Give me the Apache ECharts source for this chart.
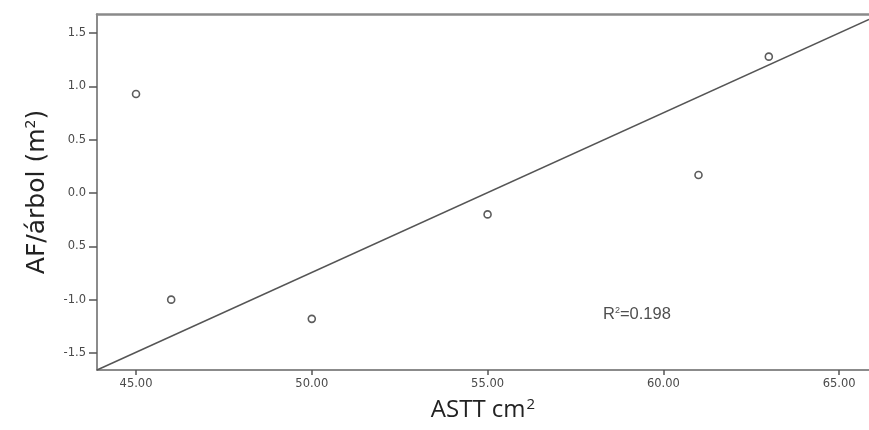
<!DOCTYPE html>
<html>
<head>
<meta charset="utf-8">
<script src="https://cdn.jsdelivr.net/npm/echarts@6/dist/echarts.min.js"></script>
<style>
html,body{margin:0;padding:0;background:#fff;}
#c{width:869px;height:430px;}
</style>
</head>
<body>
<div id="c"></div>
<script>
// Data
const pointX = [45.0, 46.0, 50.0, 55.0, 61.0, 63.0];
const pointY = [0.93, -1.0, -1.18, -0.2, 0.17, 1.28];
const lineX = [43.89, 65.85];
const lineY = [-1.66, 1.63];
const xTicks = [45, 50, 55, 60, 65];
const xTickLabels = ["45.00", "50.00", "55.00", "60.00", "65.00"];
const yTicks = [-1.5, -1.0, -0.5, 0.0, 0.5, 1.0, 1.5];
const yTickLabels = ["-1.5", "-1.0", "0.5", "0.0", "0.5", "1.0", "1.5"];
const r2Pos = [59.25, -1.14];
const r2Value = "0.198";

const chart = echarts.init(document.getElementById('c'), null, {renderer: 'canvas'});
const tickFont = {fontFamily: 'DejaVu Sans', fontSize: 11.5, color: '#4a4a4a'};

chart.setOption({
  animation: false,
  backgroundColor: '#fff',
  grid: {left: 97, right: 0, top: 14, bottom: 60},
  xAxis: [{
    type: 'value', min: 43.89, max: 65.85,
    axisLine: {show: true, onZero: false, lineStyle: {color: '#666', width: 1.5}},
    axisTick: {show: true, length: 5, inside: false, customValues: xTicks, lineStyle: {color: '#555', width: 1.5}},
    axisLabel: Object.assign({margin: 8, customValues: xTicks,
      formatter: v => { const i = xTicks.indexOf(v); return i >= 0 ? xTickLabels[i] : ''; }}, tickFont),
    splitLine: {show: false},
    name: '{a|ASTT cm}{s|2}', nameLocation: 'middle', nameGap: 27,
    nameTextStyle: {rich: {
      a: {fontFamily: 'Open Sans', fontSize: 24, color: '#222'},
      s: {fontFamily: 'Open Sans', fontSize: 15, color: '#222', verticalAlign: 'top', padding: [0,0,12,1]}
    }}
  }, {
    type: 'value', position: 'top', min: 43.89, max: 65.85,
    axisLine: {show: true, onZero: false, lineStyle: {color: '#8a8a8a', width: 2.5}},
    axisTick: {show: false}, axisLabel: {show: false}, splitLine: {show: false}
  }],
  yAxis: {
    type: 'value', min: -1.66, max: 1.68,
    axisLine: {show: true, onZero: false, lineStyle: {color: '#666', width: 1.5}},
    axisTick: {show: true, length: 8, customValues: yTicks, lineStyle: {color: '#555', width: 1.5}},
    axisLabel: Object.assign({margin: 11, customValues: yTicks,
      formatter: v => { const i = yTicks.findIndex(t => Math.abs(t - v) < 1e-9); return i >= 0 ? yTickLabels[i] : ''; }}, tickFont),
    splitLine: {show: false},
    name: '{a|AF/árbol (m}{s|2}{a|)}', nameLocation: 'middle', nameGap: 47, nameRotate: 90,
    nameTextStyle: {rich: {
      a: {fontFamily: 'DejaVu Sans', fontSize: 25, color: '#222'},
      s: {fontFamily: 'DejaVu Sans', fontSize: 14, color: '#222', verticalAlign: 'top', padding: [0,0,12,0]}
    }}
  },
  series: [{
    type: 'line',
    data: lineX.map((x, i) => [x, lineY[i]]),
    showSymbol: false, symbol: 'none',
    lineStyle: {color: '#555', width: 1.5},
    silent: true, z: 1
  }, {
    type: 'scatter',
    data: pointX.map((x, i) => [x, pointY[i]]),
    symbol: 'circle', symbolSize: 7,
    itemStyle: {color: '#fff', borderColor: '#333', borderWidth: 1.6},
    z: 3
  }, {
    type: 'scatter',
    data: [r2Pos],
    symbol: 'circle', symbolSize: 1,
    itemStyle: {color: 'rgba(0,0,0,0)'},
    label: {show: true, position: 'inside',
      formatter: '{a|R}{s|2}{a|=' + r2Value + '}',
      rich: {
        a: {fontFamily: 'Liberation Sans', fontSize: 16.5, color: '#222'},
        s: {fontFamily: 'Liberation Sans', fontSize: 9, color: '#222', verticalAlign: 'top', padding: [0,0,9,0]}
      }},
    silent: true, z: 4
  }]
});
</script>
</body>
</html>
